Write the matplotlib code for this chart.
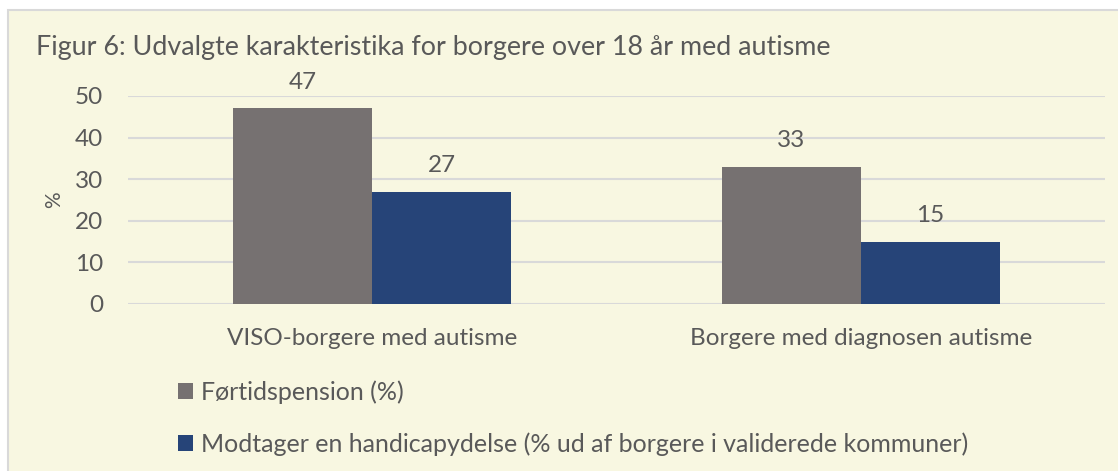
import numpy as np
import matplotlib.pyplot as plt
from matplotlib.patches import Rectangle

categories = ["VISO-borgere med autisme", "Borgere med diagnosen autisme"]
fortidspension = [47, 33]
handicapydelse = [27, 15]
series_names = ["Førtidspension (%)",
                "Modtager en handicapydelse (% ud af borgere i validerede kommuner)"]
yticks = [0, 10, 20, 30, 40, 50]

plt.rcParams['font.family'] = ['Lato', 'DejaVu Sans']
bg = '#F8F7E1'
txt = '#595959'

fig = plt.figure(figsize=(11.18, 4.71), dpi=100)
fig.patch.set_facecolor('white')
# chart area frame
fig.patches.append(Rectangle((8 / 1118, -0.01), 1.02, 1 - 10 / 471 + 0.01,
                             transform=fig.transFigure, facecolor=bg,
                             edgecolor='#D9D9D9', linewidth=1.5, zorder=-1))

ax = fig.add_axes([128 / 1118, 1 - 304 / 471, 977 / 1118, 208 / 471])
ax.set_facecolor(bg)
ax.patch.set_alpha(0)

x = np.arange(len(categories))
w = 0.285
b1 = ax.bar(x - w / 2, fortidspension, w, color='#767171', label=series_names[0], zorder=3)
b2 = ax.bar(x + w / 2, handicapydelse, w, color='#264478', label=series_names[1], zorder=3)

for bars in (b1, b2):
    for r in bars:
        ax.annotate(f"{r.get_height():g}", (r.get_x() + r.get_width() / 2, r.get_height()),
                    xytext=(0, 11), textcoords='offset points', ha='center', va='bottom',
                    fontsize=17.5, color=txt)

ax.set_xlim(-0.5, 1.5)
ax.set_ylim(0, 50)
ax.set_yticks(yticks)
ax.yaxis.grid(True, color='#D9D9D9', linewidth=1.5, zorder=0)
ax.set_axisbelow(True)
for s in ax.spines.values():
    s.set_visible(False)
ax.tick_params(length=0, labelsize=17.5, colors=txt)
ax.tick_params(axis='y', pad=18)
ax.tick_params(axis='x', pad=17)
ax.set_xticks(x)
ax.set_xticklabels(categories)
ax.set_ylabel('%', fontsize=15, color=txt, labelpad=8)

fig.text(36 / 1118, 1 - 47 / 471, "Figur 6: Udvalgte karakteristika for borgere over 18 år med autisme",
         fontsize=19.4, color=txt, va='center', ha='left')

leg = ax.legend(loc='upper left', bbox_to_anchor=(155 / 1118, 1 - 358 / 471),
                bbox_transform=fig.transFigure, frameon=False, fontsize=18,
                labelcolor=txt, handlelength=0.6, handleheight=0.6,
                handletextpad=0.33, labelspacing=1.13)

fig.savefig('out.png', dpi=100, facecolor=fig.get_facecolor())
